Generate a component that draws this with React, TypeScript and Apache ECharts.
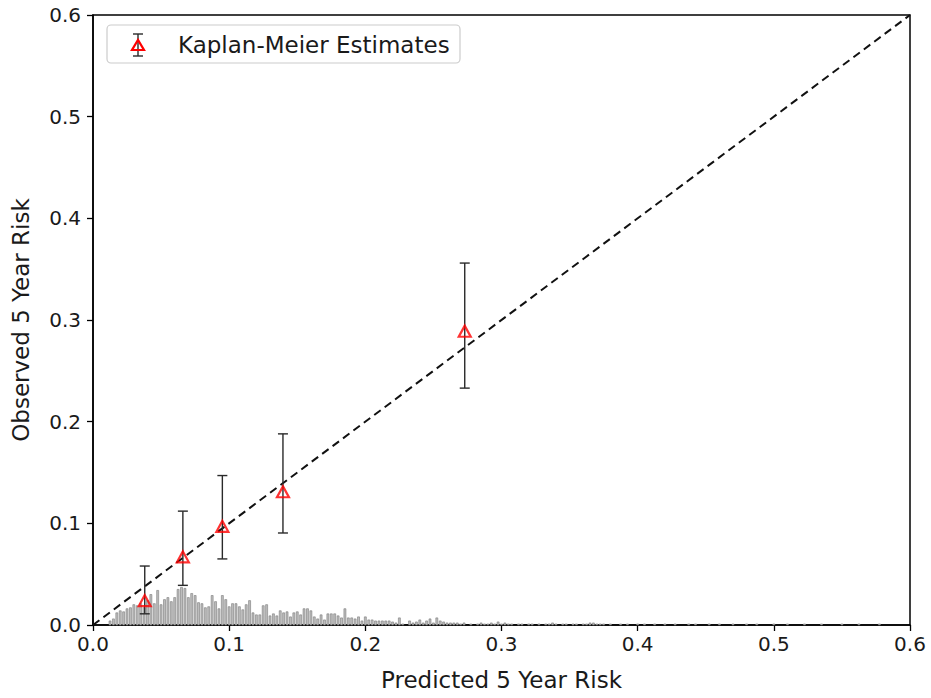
import React, { useEffect, useRef } from "react";
import * as echarts from "echarts";

// Kaplan-Meier calibration points
const kmPredicted = [0.038, 0.066, 0.095, 0.1395, 0.273];
const kmObserved = [0.024, 0.067, 0.097, 0.131, 0.289];
const kmLower = [0.011, 0.039, 0.065, 0.0905, 0.233];
const kmUpper = [0.058, 0.112, 0.147, 0.188, 0.356];

// Reference (perfect calibration) line
const refLine = [
  [0, 0],
  [0.6, 0.6],
];

// Histogram of predicted risk (bin start + width, scaled heights)
const histStart = 0.0125;
const histBin = 0.0025;
const histHeights = [
  0.004, 0.006, 0.012, 0.014, 0.013, 0.016, 0.017, 0.02, 0.019, 0.021,
  0.017, 0.024, 0.03, 0.021, 0.034, 0.02, 0.025, 0.027, 0.023, 0.027,
  0.035, 0.037, 0.036, 0.027, 0.031, 0.029, 0.022, 0.021, 0.017, 0.018,
  0.029, 0.023, 0.016, 0.029, 0.025, 0.018, 0.021, 0.021, 0.018, 0.015,
  0.02, 0.024, 0.012, 0.01, 0.01, 0.019, 0.02, 0.009, 0.011, 0.009,
  0.014, 0.012, 0.013, 0.008, 0.012, 0.013, 0.01, 0.016, 0.016, 0.014,
  0.008, 0.006, 0.01, 0.005, 0.011, 0.011, 0.011, 0.009, 0.007, 0.016,
  0.007, 0.007, 0.006, 0.008, 0.004, 0.008, 0.005, 0.005, 0.004, 0.004,
  0.004, 0.004, 0.004, 0.003, 0.002, 0.007, 0.001, 0.0, 0.004, 0.002,
  0.003, 0.005, 0.002, 0.004, 0.006, 0.002, 0.007, 0.004, 0.003, 0.002,
  0.002, 0.002, 0.002, 0.001, 0.002, 0.0, 0.001, 0.0, 0.001, 0.002,
  0.001, 0.001, 0.002, 0.001, 0.003, 0.001, 0.002, 0.001, 0.001, 0.0,
  0.001, 0.001, 0.0, 0.001, 0.001, 0.0, 0.001, 0.0, 0.001, 0.001,
  0.002, 0.001, 0.0, 0.001, 0.001, 0.0, 0.001, 0.001, 0.0, 0.001,
  0.001, 0.002, 0.002, 0.001, 0.001, 0.001, 0.0, 0.001, 0.0, 0.0,
  0.001, 0.0, 0.001, 0.0, 0.0, 0.001, 0.0, 0.001, 0.0, 0.0,
  0.001, 0.0, 0.0, 0.001, 0.0, 0.0, 0.001, 0.0, 0.0, 0.0,
  0.001, 0.0, 0.001, 0.0, 0.0, 0.0, 0.001, 0.0, 0.0, 0.001,
  0.0, 0.0, 0.0, 0.001, 0.0, 0.0, 0.0, 0.001, 0.0, 0.0,
  0.001, 0.0, 0.0, 0.0, 0.0, 0.001, 0.0, 0.0, 0.0, 0.001,
  0.0, 0.0, 0.0, 0.0, 0.001, 0.0, 0.0, 0.0, 0.0, 0.001,
  0.0, 0.0, 0.0, 0.0, 0.0, 0.001, 0.0, 0.0, 0.0, 0.0,
  0.001, 0.0, 0.0, 0.0, 0.0, 0.0, 0.001, 0.0,
];

const legendLabel = "Kaplan-Meier Estimates";
const xAxisTitle = "Predicted 5 Year Risk";
const yAxisTitle = "Observed 5 Year Risk";

const FONT = "DejaVu Sans";
const TEXT = "#1a1a1a";

export default function App() {
  const ref = useRef<HTMLDivElement>(null);

  useEffect(() => {
    if (!ref.current) return;
    const chart = echarts.init(ref.current, undefined, { renderer: "svg" });

    const histData = histHeights
      .map((h, i) => [histStart + i * histBin, h])
      .filter((d) => d[1] > 0);
    const errData = kmPredicted.map((x, i) => [x, kmLower[i], kmUpper[i]]);
    const pointData = kmPredicted.map((x, i) => [x, kmObserved[i]]);

    const axisCommon = {
      type: "value" as const,
      min: 0,
      max: 0.6,
      interval: 0.1,
      splitLine: { show: false },
      axisLine: { show: true, lineStyle: { color: "#000", width: 1.5 } },
      axisTick: { show: true, length: 6, lineStyle: { color: "#000", width: 1.3 } },
      nameLocation: "middle" as const,
      nameTextStyle: { fontFamily: FONT, fontSize: 23, color: TEXT },
    };

    chart.setOption({
      animation: false,
      backgroundColor: "#fff",
      grid: {
        left: 93,
        right: 21,
        top: 15,
        bottom: 73,
        show: true,
        borderColor: "#000",
        borderWidth: 1.5,
        backgroundColor: "transparent",
      },
      xAxis: {
        ...axisCommon,
        name: xAxisTitle,
        nameGap: 43,
        axisLabel: {
          fontFamily: FONT,
          fontSize: 20,
          color: TEXT,
          margin: 9,
          hideOverlap: false,
          showMaxLabel: true,
          formatter: (v: number) => v.toFixed(1),
        },
      },
      yAxis: {
        ...axisCommon,
        name: yAxisTitle,
        nameGap: 61,
        axisLabel: {
          fontFamily: FONT,
          fontSize: 20,
          color: TEXT,
          margin: 12,
          formatter: (v: number) => v.toFixed(1),
        },
      },
      series: [
        {
          type: "custom",
          name: "hist",
          data: histData,
          z: 1,
          renderItem: (params: any, api: any) => {
            const x = api.value(0);
            const h = api.value(1);
            const p0 = api.coord([x, 0]);
            const p1 = api.coord([x, h]);
            return {
              type: "rect",
              shape: { x: p0[0] - 1, y: p1[1], width: 2, height: p0[1] - p1[1] },
              style: { fill: "#bdbdbd", stroke: "#7a7a7a", lineWidth: 0.6 },
            };
          },
        },
        {
          type: "line",
          name: "ref",
          data: refLine,
          symbol: "none",
          z: 2,
          lineStyle: { color: "#111", width: 2, type: [8, 5] },
        },
        {
          type: "custom",
          name: "err",
          data: errData,
          z: 3,
          renderItem: (params: any, api: any) => {
            const x = api.value(0);
            const lo = api.coord([x, api.value(1)]);
            const hi = api.coord([x, api.value(2)]);
            const cw = 5;
            const st = { stroke: "#2a2a2a", lineWidth: 1.4 };
            return {
              type: "group",
              children: [
                { type: "line", shape: { x1: lo[0], y1: lo[1], x2: hi[0], y2: hi[1] }, style: st },
                { type: "line", shape: { x1: lo[0] - cw, y1: lo[1], x2: lo[0] + cw, y2: lo[1] }, style: st },
                { type: "line", shape: { x1: hi[0] - cw, y1: hi[1], x2: hi[0] + cw, y2: hi[1] }, style: st },
              ],
            };
          },
        },
        {
          type: "scatter",
          name: legendLabel,
          data: pointData,
          z: 4,
          symbol: "triangle",
          symbolSize: [12, 11],
          itemStyle: { color: "rgba(255,255,255,0)", borderColor: "#ff0000", borderWidth: 2.2 },
        },
      ],
      graphic: [
        {
          type: "group",
          z: 100,
          children: [
            {
              type: "rect",
              shape: { x: 107, y: 25, width: 353, height: 38, r: 4 },
              style: { fill: "#fff", stroke: "#cccccc", lineWidth: 1.2 },
            },
            { type: "line", shape: { x1: 138, y1: 34, x2: 138, y2: 56 }, style: { stroke: "#2a2a2a", lineWidth: 1.4 } },
            { type: "line", shape: { x1: 133, y1: 34, x2: 143, y2: 34 }, style: { stroke: "#2a2a2a", lineWidth: 1.4 } },
            { type: "line", shape: { x1: 133, y1: 56, x2: 143, y2: 56 }, style: { stroke: "#2a2a2a", lineWidth: 1.4 } },
            {
              type: "polygon",
              shape: { points: [[132, 50], [144, 50], [138, 40]] },
              style: { fill: "rgba(255,255,255,0)", stroke: "#ff0000", lineWidth: 2.2 },
            },
            {
              type: "text",
              x: 178,
              y: 45,
              style: {
                text: legendLabel,
                fontFamily: FONT,
                fontSize: 23,
                fill: TEXT,
                verticalAlign: "middle",
                align: "left",
              },
            },
          ],
        },
      ],
    });

    return () => chart.dispose();
  }, []);

  return (
    <div
      ref={ref}
      style={{ position: "fixed", left: 0, top: 0, width: 931, height: 698, overflow: "visible" }}
    />
  );
}
